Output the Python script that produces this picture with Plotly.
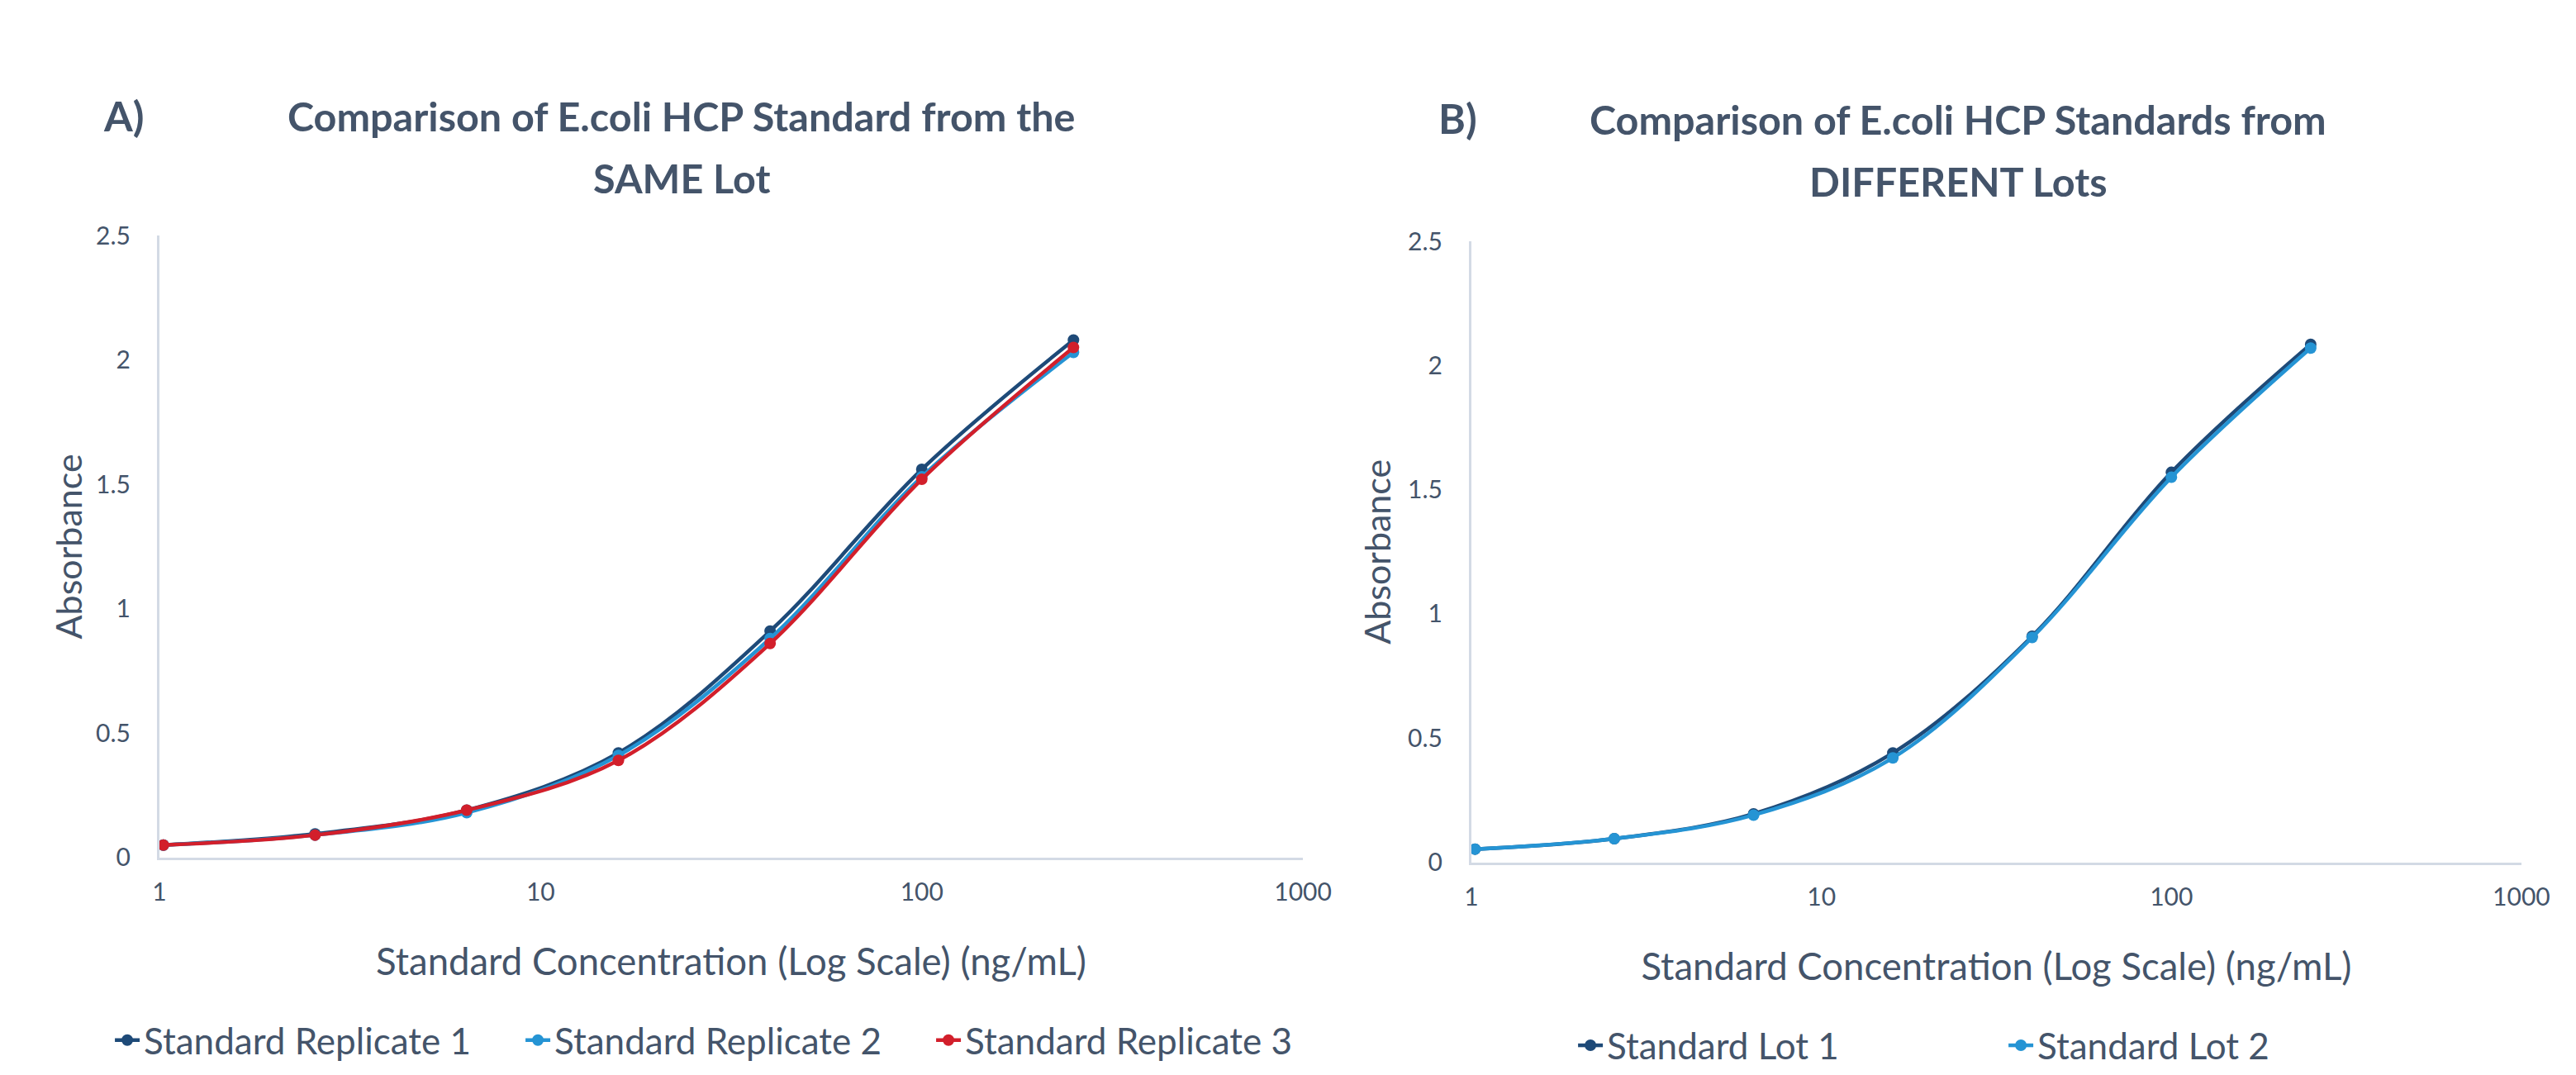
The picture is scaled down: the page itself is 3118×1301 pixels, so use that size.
import plotly.graph_objects as go

# ---- data ----
conc = [1.024, 2.56, 6.4, 16, 40, 100, 250]
rep1 = [0.05, 0.095, 0.19, 0.42, 0.91, 1.56, 2.08]
rep2 = [0.05, 0.09, 0.18, 0.41, 0.88, 1.53, 2.03]
rep3 = [0.05, 0.09, 0.19, 0.39, 0.86, 1.52, 2.05]
lot1 = [0.053, 0.095, 0.195, 0.44, 0.91, 1.57, 2.085]
lot2 = [0.053, 0.095, 0.19, 0.42, 0.905, 1.55, 2.07]
x_tickvals = [1, 10, 100, 1000]
x_ticktext = ["1", "10", "100", "1000"]

NAVY = "#1E4A78"
LIGHT = "#2594D4"
RED = "#D21F2B"
TXT = "#44546A"
AXC = "#D3DAE5"
FONT = "Lato"

fig = go.Figure()

def add(x, y, name, color, xa, ya, legend):
    fig.add_trace(go.Scatter(
        x=x, y=y, name=name, mode="lines+markers", line_shape="spline",
        line=dict(color=color, width=4.5), marker=dict(color=color, size=14),
        xaxis=xa, yaxis=ya, legend=legend, cliponaxis=False))

add(conc, rep1, "Standard Replicate 1", NAVY, "x", "y", "legend")
add(conc, rep2, "Standard Replicate 2", LIGHT, "x", "y", "legend")
add(conc, rep3, "Standard Replicate 3", RED, "x", "y", "legend")
add(conc, lot1, "Standard Lot 1", NAVY, "x2", "y2", "legend2")
add(conc, lot2, "Standard Lot 2", LIGHT, "x2", "y2", "legend2")

xcommon = dict(type="log", range=[0, 3], showline=True, linecolor=AXC, linewidth=3,
               showgrid=False, zeroline=False, tickvals=x_tickvals, ticktext=x_ticktext,
               ticks="", ticklabelstandoff=13, automargin=False,
               tickfont=dict(size=30, color=TXT, family=FONT))
ycommon = dict(range=[0, 2.5], dtick=0.5, showline=True, linecolor=AXC, linewidth=3,
               showgrid=False, zeroline=False, ticks="", ticklabelstandoff=26, automargin=False,
               tickfont=dict(size=30, color=TXT, family=FONT))

xt = "Standard Concentration (Log Scale) (ng/mL)"

fig.update_layout(
    width=3118, height=1301, autosize=False,
    margin=dict(l=0, r=0, t=0, b=0),
    paper_bgcolor="white", plot_bgcolor="white",
    font=dict(family=FONT, color=TXT),
    xaxis=dict(domain=[0.0619, 0.5058], anchor="y",
               title=dict(text=xt, font=dict(size=45.5, color=TXT), standoff=54), **xcommon),
    yaxis=dict(domain=[0.1816, 0.7752], anchor="x",
               title=dict(text="Absorbance", font=dict(size=43, color=TXT), standoff=4), **ycommon),
    xaxis2=dict(domain=[0.5712, 0.9788], anchor="y2",
                title=dict(text=xt, font=dict(size=45.5, color=TXT), standoff=54), **xcommon),
    yaxis2=dict(domain=[0.1770, 0.7697], anchor="x2",
                title=dict(text="Absorbance", font=dict(size=43, color=TXT), standoff=8), **ycommon),
    legend=dict(orientation="h", x=0.043, xanchor="left", y=0.007, yanchor="middle",
                font=dict(size=44, color=TXT), entrywidth=452, entrywidthmode="pixels",
                bgcolor="rgba(0,0,0,0)"),
    legend2=dict(orientation="h", x=0.611, xanchor="left", y=0.002, yanchor="middle",
                 font=dict(size=44, color=TXT), entrywidth=476, entrywidthmode="pixels",
                 bgcolor="rgba(0,0,0,0)"),
)

ann = [
    ("<b>A)</b>", 149, 144, 50),
    ("<b>Comparison of E.coli HCP Standard from the</b>", 825, 144, 48.5),
    ("<b>SAME Lot</b>", 825, 221, 48.5),
    ("<b>B)</b>", 1764, 147, 50),
    ("<b>Comparison of E.coli HCP Standards from</b>", 2370, 148, 48.5),
    ("<b>DIFFERENT Lots</b>", 2370, 225, 48.5),
]
for text, px, py, size in ann:
    fig.add_annotation(text=text, x=px / 3118, y=1 - py / 1301, xref="paper", yref="paper",
                       showarrow=False, xanchor="center", yanchor="middle",
                       font=dict(size=size, color=TXT, family=FONT))

page_fix = (
    "document.documentElement.style.overflow='hidden';"
    "document.body.style.margin='0px';"
    "document.body.style.height='1301px';"
    "document.body.style.overflow='hidden';"
    "document.body.style.fontSize='0px';"
    "document.body.style.lineHeight='0';"
)
fig.write_html("out.html", post_script=page_fix, config={"displayModeBar": False})
